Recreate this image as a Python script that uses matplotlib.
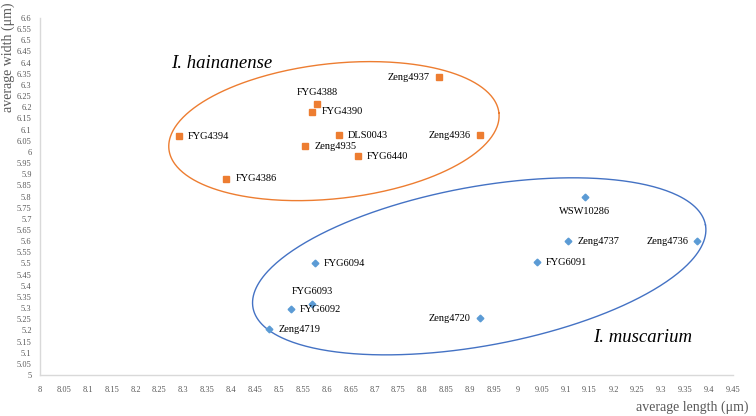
import numpy as np
import matplotlib
matplotlib.use("Agg")
import matplotlib.pyplot as plt

# I. hainanense (orange squares)
han_names = ["FYG4394", "FYG4386", "Zeng4937", "FYG4388", "FYG4390", "DLS0043",
             "Zeng4936", "Zeng4935", "FYG6440"]
han_len = [8.29, 8.39, 8.835, 8.58, 8.57, 8.625, 8.92, 8.555, 8.665]
han_wid = [6.07, 5.88, 6.335, 6.215, 6.18, 6.075, 6.075, 6.025, 5.98]
han_pos = ["right", "right", "left", "above", "right", "right", "left", "right", "right"]

# I. muscarium (blue diamonds)
mus_names = ["WSW10286", "Zeng4737", "Zeng4736", "FYG6094", "FYG6091", "FYG6093",
             "FYG6092", "Zeng4719", "Zeng4720"]
mus_len = [9.14, 9.105, 9.375, 8.575, 9.04, 8.57, 8.525, 8.48, 8.92]
mus_wid = [5.80, 5.60, 5.60, 5.50, 5.505, 5.32, 5.295, 5.205, 5.255]
mus_pos = ["below", "right", "left", "right", "right", "above", "right", "right", "left"]

x_ticks = np.round(np.arange(8, 9.4501, 0.05), 2)
y_ticks = np.round(np.arange(5, 6.6001, 0.05), 2)

orange = "#ED7D31"
blue = "#5B9BD5"
ring_blue = "#4472C4"
grey = "#595959"

plt.rcParams["font.family"] = ["Liberation Serif", "DejaVu Serif"]

fig = plt.figure(figsize=(7.56, 4.16), dpi=100)
ax = fig.add_axes([40 / 756, 1 - 375 / 416, 693 / 756, 357 / 416])
ax.set_xlim(8, 9.45)
ax.set_ylim(5, 6.6)


def fmt(v):
    s = f"{v:.2f}".rstrip("0").rstrip(".")
    return s


ax.set_xticks(x_ticks)
ax.set_xticklabels([fmt(v) for v in x_ticks])
ax.set_yticks(y_ticks)
ax.set_yticklabels([fmt(v) for v in y_ticks])
ax.tick_params(length=0, labelsize=6, labelcolor=grey, pad=8)
ax.tick_params(axis="y", pad=6)
for s in ["top", "right"]:
    ax.spines[s].set_visible(False)
for s in ["left", "bottom"]:
    ax.spines[s].set_color("#d9d9d9")
    ax.spines[s].set_linewidth(1)

ax.plot(han_len, han_wid, "s", color=orange, ms=4.6, ls="none", zorder=3)
ax.plot(mus_len, mus_wid, "D", color=blue, ms=3.4, ls="none", zorder=3)

offsets = {"right": ((6.5, 0), "left", "center"),
           "left": ((-6.5, 0), "right", "center"),
           "above": ((0, 8.5), "center", "center"),
           "below": ((0, -10.5), "center", "center")}


def label(names, xs, ys, pos):
    for n, x, y, p in zip(names, xs, ys, pos):
        off, ha, va = offsets[p]
        ax.annotate(n, (x, y), xytext=off, textcoords="offset points",
                    ha=ha, va=va, fontsize=7.5, color="black")


label(han_names, han_len, han_wid, han_pos)
label(mus_names, mus_len, mus_wid, mus_pos)


# group outlines, sized in pixels then mapped to data
def ring(cx, cy, a, b, ang, color):
    fig.canvas.draw()
    px0, py0 = ax.transData.transform((cx, cy))
    t = np.linspace(0, 2 * np.pi, 400)
    th = np.radians(ang)
    px = px0 + a * np.cos(t) * np.cos(th) - b * np.sin(t) * np.sin(th)
    py = py0 + a * np.cos(t) * np.sin(th) + b * np.sin(t) * np.cos(th)
    d = ax.transData.inverted().transform(np.column_stack([px, py]))
    ax.plot(d[:, 0], d[:, 1], color=color, lw=1.0, zorder=2)


ring(8.615, 6.093, 166, 67.5, 6.3, orange)
ring(8.919, 5.487, 230, 79.5, 10.4, ring_blue)

ax.text(8.275, 6.395, "I. hainanense", fontsize=13.5, style="italic", ha="left", va="center")
ax.text(9.45 - 0.085, 5.17, "I. muscarium", fontsize=13.5, style="italic", ha="right", va="center")

fig.text(8 / 756, 1 - 2 / 416, "average width (μm)", rotation=90, ha="center", va="top",
         fontsize=10, color=grey)
fig.text(748 / 756, 1 - 407 / 416, "average length (μm)", ha="right", va="center",
         fontsize=10, color=grey)

fig.savefig("out.png", dpi=100)
